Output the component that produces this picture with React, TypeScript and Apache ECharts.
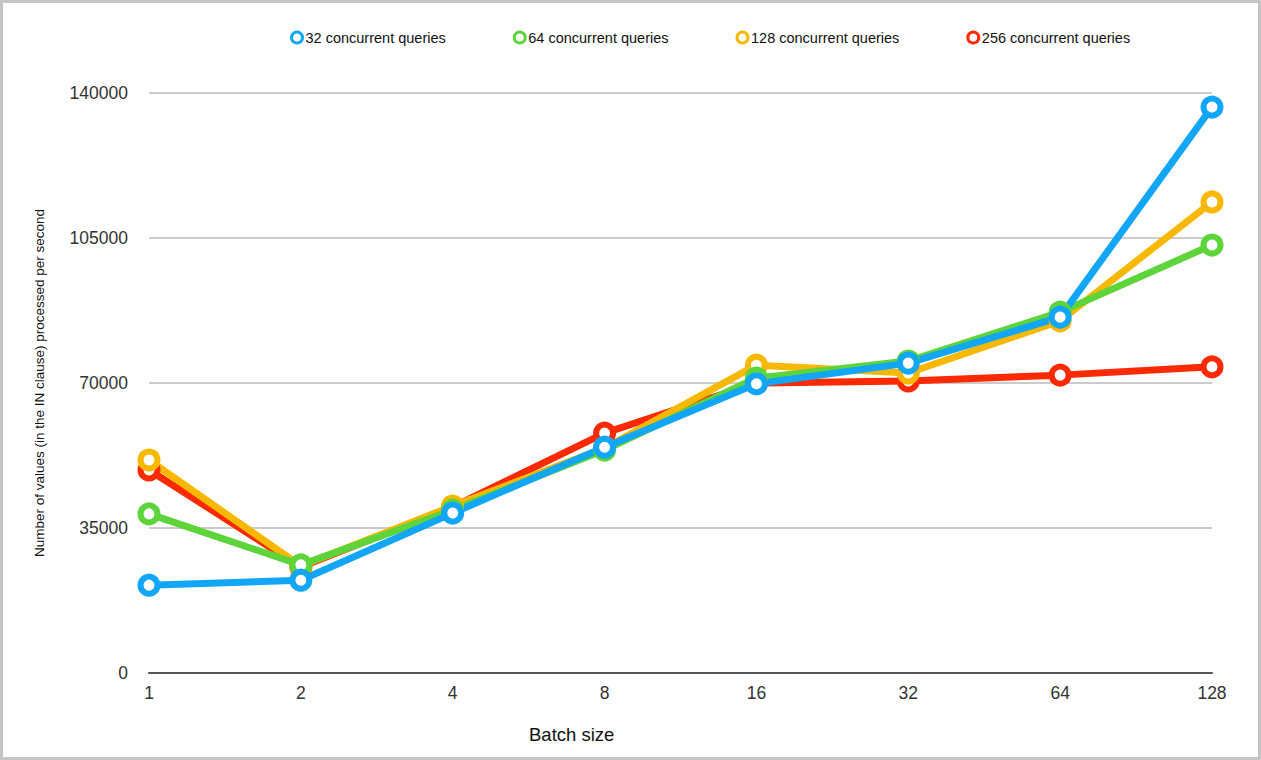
import React, { useEffect, useRef } from "react";
import * as echarts from "echarts";

const batchSizes = ["1", "2", "4", "8", "16", "32", "64", "128"];
const q32 = [21200, 22400, 38600, 54500, 69800, 74800, 85900, 136600];
const q64 = [38400, 26100, 39300, 53800, 71200, 75300, 87100, 103300];
const q128 = [51400, 25800, 40300, 54300, 74300, 72400, 85000, 113700];
const q256 = [49000, 25600, 40100, 57900, 70000, 70500, 71900, 73900];
const yTicks = { min: 0, max: 140000, interval: 35000 };

const FONT = "'Liberation Sans', Arial, Helvetica, sans-serif";

export default function App() {
  const ref = useRef<HTMLDivElement>(null);
  useEffect(() => {
    const chart = echarts.init(ref.current!, null, { renderer: "svg" });
    const mk = (name: string, data: number[], color: string) => ({
      name,
      type: "line",
      data,
      color,
      symbol: "circle",
      symbolSize: 17,
      showAllSymbol: true,
      lineStyle: { width: 7, color },
      itemStyle: { color: "#ffffff", borderColor: color, borderWidth: 6 },
      emphasis: { disabled: true },
    });
    const colors: Record<string, string> = {
      "32 concurrent queries": "#11a6f7",
      "64 concurrent queries": "#5dd43a",
      "128 concurrent queries": "#f8b800",
      "256 concurrent queries": "#fd2a00",
    };
    const legendNames = Object.keys(colors);
    chart.setOption({
      animation: false,
      backgroundColor: "#ffffff",
      textStyle: { fontFamily: FONT },
      legend: {
        data: legendNames.map((n) => ({
          name: n,
          icon: "circle",
          itemStyle: { color: "#ffffff", borderColor: colors[n], borderWidth: 3 },
        })),
        left: 285,
        top: 25,
        itemWidth: 11,
        itemHeight: 11,
        itemGap: 67,
        textStyle: { fontSize: 14.5, color: "#111", fontFamily: FONT, padding: [0, 0, 0, -2] },
      },
      grid: { left: 149, right: 49, top: 93, bottom: 87, containLabel: false },
      xAxis: {
        type: "category",
        data: batchSizes,
        boundaryGap: false,
        axisLine: { lineStyle: { color: "#555", width: 2 } },
        axisTick: { show: false },
        axisLabel: { fontSize: 17.5, color: "#333", margin: 11, fontFamily: FONT },
        splitLine: { show: false },
      },
      yAxis: {
        type: "value",
        min: yTicks.min,
        max: yTicks.max,
        interval: yTicks.interval,
        name: "Number of values (in the IN clause) processed per second",
        nameLocation: "middle",
        nameGap: 103,
        nameTextStyle: { fontSize: 13.5, color: "#111", fontFamily: FONT },
        axisLine: { show: false },
        axisTick: { show: false },
        axisLabel: {
          fontSize: 17.5,
          color: "#333",
          margin: 21,
          fontFamily: FONT,
          formatter: (v: number) => String(v),
        },
        splitLine: { lineStyle: { color: "#cccccc", width: 2 } },
      },
      graphic: [
        {
          type: "text",
          left: 529,
          top: 725,
          style: { text: "Batch size", fontSize: 18.5, fill: "#111", fontFamily: FONT },
        },
      ],
      series: [
        mk("256 concurrent queries", q256, colors["256 concurrent queries"]),
        mk("128 concurrent queries", q128, colors["128 concurrent queries"]),
        mk("64 concurrent queries", q64, colors["64 concurrent queries"]),
        mk("32 concurrent queries", q32, colors["32 concurrent queries"]),
      ],
    });
    return () => chart.dispose();
  }, []);
  return (
    <div style={{ position: "fixed", left: 0, top: 0, width: 1261, height: 760, background: "#fff" }}>
      <div ref={ref} style={{ position: "absolute", left: 0, top: 0, width: 1261, height: 760 }} />
      <div
        style={{
          position: "absolute",
          left: 0,
          top: 0,
          width: 1261,
          height: 760,
          boxSizing: "border-box",
          border: "3px solid #c4c4c4",
          pointerEvents: "none",
        }}
      />
    </div>
  );
}
